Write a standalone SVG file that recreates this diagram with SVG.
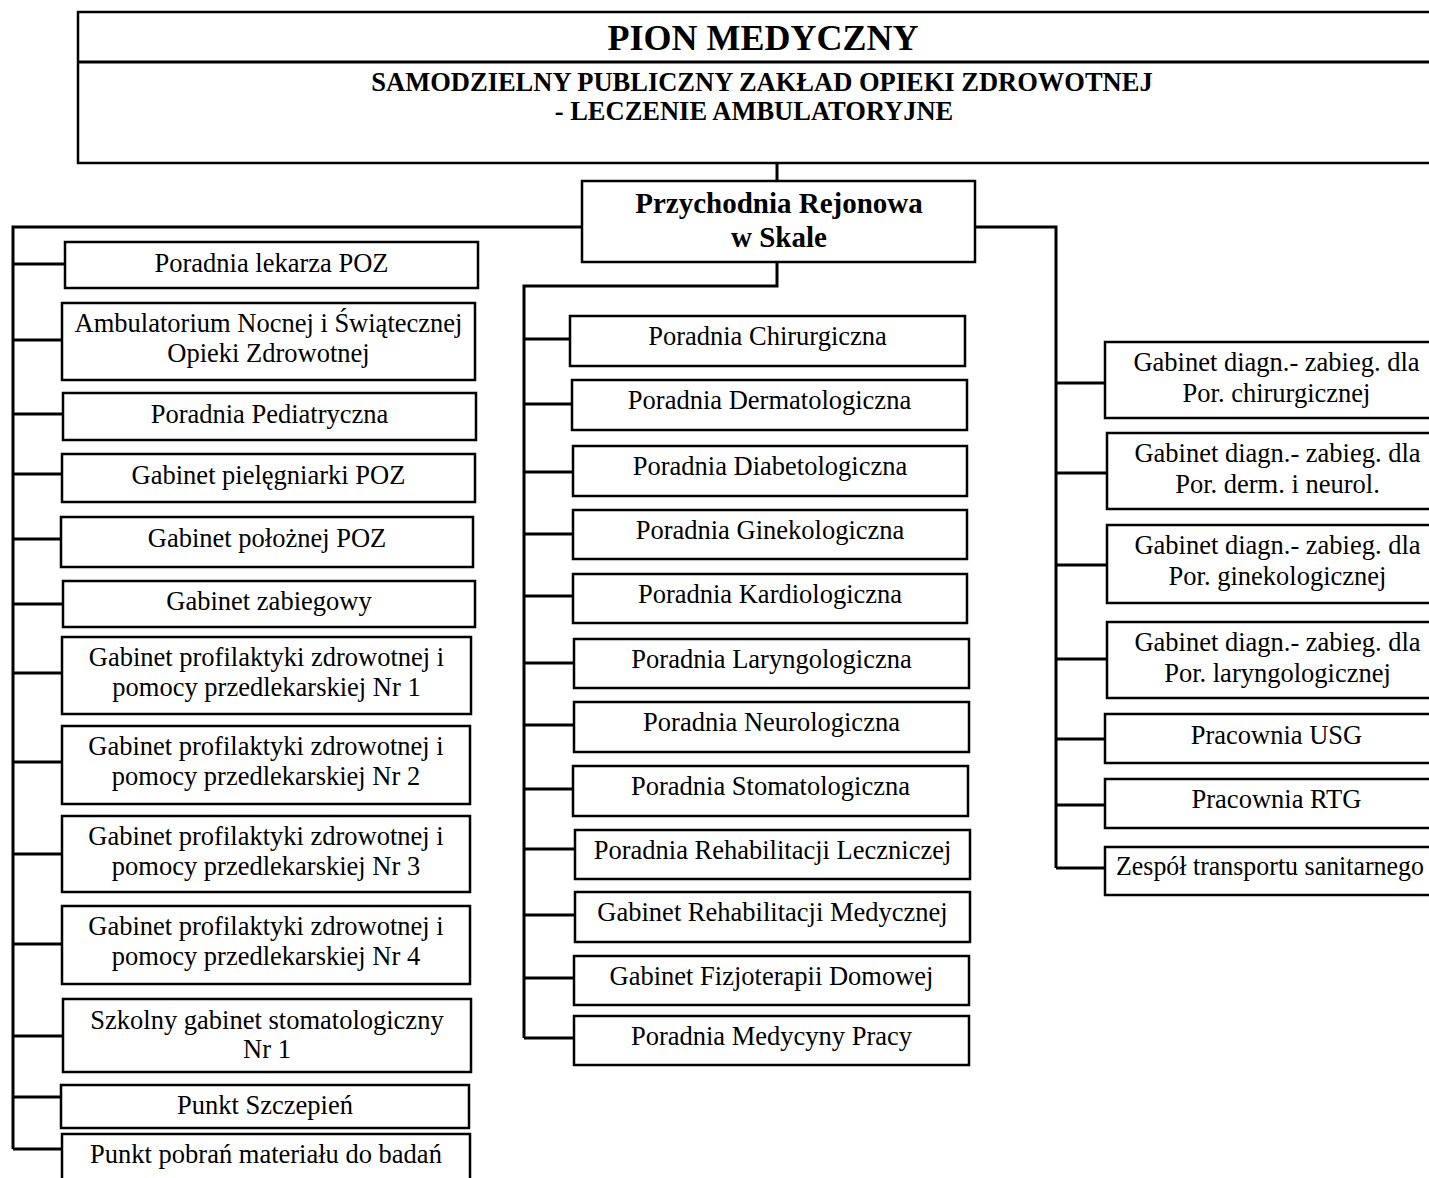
<svg xmlns="http://www.w3.org/2000/svg" width="1429" height="1178" viewBox="0 0 1429 1178">
<style>
.box{fill:#fff;stroke:#000;stroke-width:2.5}
.conn{fill:none;stroke:#000;stroke-width:3}
text{font-family:"Liberation Serif","Times New Roman",serif;fill:#000;text-anchor:middle}
.t{font-size:26.5px}
.b{font-weight:bold}
</style>
<rect width="1429" height="1178" fill="#fff"/>
<g id="connectors">
<path class="conn" d="M777 163V181"/>
<path class="conn" d="M582 227H13V1149"/>
<path class="conn" d="M13 264H65M13 340H62M13 414H63M13 474H62M13 539H61M13 604H63M13 673H62M13 762H62M13 854H62M13 944H62M13 1036H63M13 1097H61M13 1149H62"/>
<path class="conn" d="M777 262V286H524V1038"/>
<path class="conn" d="M524 339H570M524 404H572M524 472H573M524 534H573M524 596H573M524 663H574M524 725H574M524 789H573M524 849H575M524 915H575M524 978H574M524 1038H574"/>
<path class="conn" d="M975 227H1056V868"/>
<path class="conn" d="M1056 383H1105M1056 473H1107M1056 565H1107M1056 659H1107M1056 739H1105M1056 805H1105M1056 868H1105"/>
</g>
<g id="header">
<rect class="box" x="78" y="12" width="1370" height="151"/>
<line x1="78" y1="62" x2="1448" y2="62" stroke="#000" stroke-width="3"/>
<text class="b" x="763" y="50" font-size="36">PION MEDYCZNY</text>
<text class="t b" x="762" y="91">SAMODZIELNY PUBLICZNY ZAKŁAD OPIEKI ZDROWOTNEJ</text>
<text class="t b" x="754" y="120">- LECZENIE AMBULATORYJNE</text>
</g>
<g id="przychodnia">
<rect class="box" x="582" y="181" width="393" height="81"/>
<text class="b" x="779" y="213" font-size="29">Przychodnia Rejonowa</text>
<text class="b" x="779" y="247" font-size="29">w Skale</text>
</g>
<g id="l1"><rect class="box" x="65" y="242" width="413" height="46"/><text class="t" x="271.5" y="272">Poradnia lekarza POZ</text></g>
<g id="l2"><rect class="box" x="62" y="303" width="413" height="77"/><text class="t" x="268.5" y="332">Ambulatorium Nocnej i Świątecznej</text><text class="t" x="268.5" y="362">Opieki Zdrowotnej</text></g>
<g id="l3"><rect class="box" x="63" y="393" width="413" height="47"/><text class="t" x="269.5" y="423">Poradnia Pediatryczna</text></g>
<g id="l4"><rect class="box" x="62" y="454" width="413" height="48"/><text class="t" x="268.5" y="484">Gabinet pielęgniarki POZ</text></g>
<g id="l5"><rect class="box" x="61" y="517" width="412" height="50"/><text class="t" x="267" y="547">Gabinet położnej POZ</text></g>
<g id="l6"><rect class="box" x="63" y="581" width="412" height="46"/><text class="t" x="269" y="610">Gabinet zabiegowy</text></g>
<g id="l7"><rect class="box" x="62" y="637" width="409" height="77"/><text class="t" x="266.5" y="666">Gabinet profilaktyki zdrowotnej i</text><text class="t" x="266.5" y="696">pomocy przedlekarskiej Nr 1</text></g>
<g id="l8"><rect class="box" x="62" y="726" width="408" height="78"/><text class="t" x="266" y="755">Gabinet profilaktyki zdrowotnej i</text><text class="t" x="266" y="785">pomocy przedlekarskiej Nr 2</text></g>
<g id="l9"><rect class="box" x="62" y="816" width="408" height="76"/><text class="t" x="266" y="845">Gabinet profilaktyki zdrowotnej i</text><text class="t" x="266" y="875">pomocy przedlekarskiej Nr 3</text></g>
<g id="l10"><rect class="box" x="62" y="906" width="408" height="78"/><text class="t" x="266" y="935">Gabinet profilaktyki zdrowotnej i</text><text class="t" x="266" y="965">pomocy przedlekarskiej Nr 4</text></g>
<g id="l11"><rect class="box" x="63" y="999" width="408" height="73"/><text class="t" x="267" y="1029">Szkolny gabinet stomatologiczny</text><text class="t" x="267" y="1058">Nr 1</text></g>
<g id="l12"><rect class="box" x="61" y="1085" width="408" height="43"/><text class="t" x="265" y="1114">Punkt Szczepień</text></g>
<g id="l13"><rect class="box" x="62" y="1134" width="408" height="60"/><text class="t" x="266" y="1163">Punkt pobrań materiału do badań</text></g>
<g id="m1"><rect class="box" x="570" y="316" width="395" height="50"/><text class="t" x="767.5" y="345">Poradnia Chirurgiczna</text></g>
<g id="m2"><rect class="box" x="572" y="380" width="395" height="50"/><text class="t" x="769.5" y="409">Poradnia Dermatologiczna</text></g>
<g id="m3"><rect class="box" x="573" y="446" width="394" height="50"/><text class="t" x="770" y="475">Poradnia Diabetologiczna</text></g>
<g id="m4"><rect class="box" x="573" y="510" width="394" height="49"/><text class="t" x="770" y="539">Poradnia Ginekologiczna</text></g>
<g id="m5"><rect class="box" x="573" y="574" width="394" height="49"/><text class="t" x="770" y="603">Poradnia Kardiologiczna</text></g>
<g id="m6"><rect class="box" x="574" y="639" width="395" height="49"/><text class="t" x="771.5" y="668">Poradnia Laryngologiczna</text></g>
<g id="m7"><rect class="box" x="574" y="702" width="395" height="50"/><text class="t" x="771.5" y="731">Poradnia Neurologiczna</text></g>
<g id="m8"><rect class="box" x="573" y="766" width="395" height="50"/><text class="t" x="770.5" y="795">Poradnia Stomatologiczna</text></g>
<g id="m9"><rect class="box" x="575" y="830" width="395" height="49"/><text class="t" x="772.5" y="859">Poradnia Rehabilitacji Leczniczej</text></g>
<g id="m10"><rect class="box" x="575" y="892" width="395" height="50"/><text class="t" x="772.5" y="921">Gabinet Rehabilitacji Medycznej</text></g>
<g id="m11"><rect class="box" x="574" y="956" width="395" height="49"/><text class="t" x="771.5" y="985">Gabinet Fizjoterapii Domowej</text></g>
<g id="m12"><rect class="box" x="574" y="1016" width="395" height="49"/><text class="t" x="771.5" y="1045">Poradnia Medycyny Pracy</text></g>
<g id="r1"><rect class="box" x="1105" y="342" width="343" height="76"/><text class="t" x="1276.5" y="371">Gabinet diagn.- zabieg. dla</text><text class="t" x="1276.5" y="402">Por. chirurgicznej</text></g>
<g id="r2"><rect class="box" x="1107" y="433" width="341" height="76"/><text class="t" x="1277.5" y="462">Gabinet diagn.- zabieg. dla</text><text class="t" x="1277.5" y="493">Por. derm. i neurol.</text></g>
<g id="r3"><rect class="box" x="1107" y="525" width="341" height="78"/><text class="t" x="1277.5" y="554">Gabinet diagn.- zabieg. dla</text><text class="t" x="1277.5" y="585">Por. ginekologicznej</text></g>
<g id="r4"><rect class="box" x="1107" y="622" width="341" height="76"/><text class="t" x="1277.5" y="651">Gabinet diagn.- zabieg. dla</text><text class="t" x="1277.5" y="682">Por. laryngologicznej</text></g>
<g id="r5"><rect class="box" x="1105" y="714" width="343" height="49"/><text class="t" x="1276.5" y="744">Pracownia USG</text></g>
<g id="r6"><rect class="box" x="1105" y="779" width="343" height="49"/><text class="t" x="1276.5" y="808">Pracownia RTG</text></g>
<g id="r7"><rect class="box" x="1105" y="847" width="343" height="48"/><text class="t" x="1270" y="875" textLength="308" lengthAdjust="spacingAndGlyphs">Zespół transportu sanitarnego</text></g>
</svg>
